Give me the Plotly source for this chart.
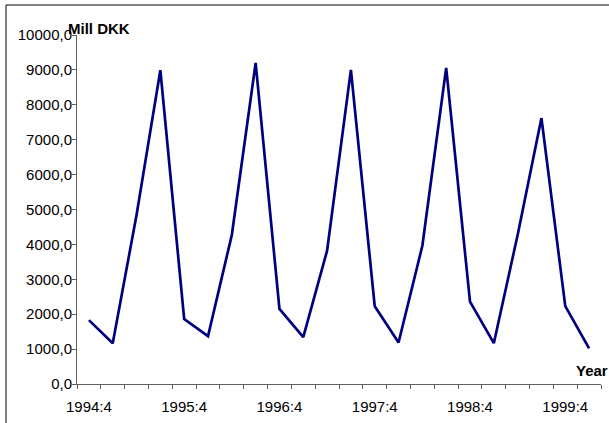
import plotly.graph_objects as go

categories = ["1994:4",
              "1995:1", "1995:2", "1995:3", "1995:4",
              "1996:1", "1996:2", "1996:3", "1996:4",
              "1997:1", "1997:2", "1997:3", "1997:4",
              "1998:1", "1998:2", "1998:3", "1998:4",
              "1999:1", "1999:2", "1999:3", "1999:4",
              "2000:1"]
values = [1830, 1170, 4840, 8990,
          1860, 1370, 4270, 9200,
          2150, 1340, 3820, 9000,
          2230, 1190, 3960, 9060,
          2360, 1170, 4270, 7620,
          2230, 1020]
y_ticks = [0, 1000, 2000, 3000, 4000, 5000, 6000, 7000, 8000, 9000, 10000]
y_ticktext = ["0,0", "1000,0", "2000,0", "3000,0", "4000,0", "5000,0",
              "6000,0", "7000,0", "8000,0", "9000,0", "10000,0"]
x_label_idx = [0, 4, 8, 12, 16, 20]

FONT = "Liberation Sans, Arial, sans-serif"
xs = list(range(len(categories)))

fig = go.Figure()
fig.add_trace(go.Scatter(x=xs, y=values, mode="lines",
                         line=dict(color="#000080", width=2.7),
                         hoverinfo="skip"))

fig.update_layout(
    width=609, height=423,
    margin=dict(l=77, r=8, t=35, b=39),
    paper_bgcolor="white", plot_bgcolor="white",
    showlegend=False,
    font=dict(family=FONT, size=15, color="black"),
    xaxis=dict(
        range=[-0.5, len(categories) - 0.5],
        tickmode="array",
        tickvals=[xs[i] for i in x_label_idx],
        ticktext=[categories[i] for i in x_label_idx],
        ticks="",
        showgrid=False, zeroline=False,
        showline=True, linecolor="#606060", linewidth=1,
        ticklabelstandoff=9,
        minor=dict(tickmode="array",
                   tickvals=[x - 0.5 for x in xs] + [len(categories) - 0.5],
                   ticks="outside", ticklen=4, tickcolor="#606060",
                   showgrid=False),
    ),
    yaxis=dict(
        range=[0, 10000],
        tickmode="array", tickvals=y_ticks, ticktext=y_ticktext,
        ticks="outside", ticklen=4, tickcolor="#606060",
        showgrid=False, zeroline=False,
        showline=True, linecolor="#606060", linewidth=1,
        ticklabelstandoff=-3,
    ),
    annotations=[
        dict(text="<b>Mill DKK</b>", xref="paper", yref="paper",
             x=-0.021, y=0.988, xanchor="left", yanchor="bottom",
             showarrow=False, font=dict(size=15, family=FONT)),
        dict(text="<b>Year</b>", xref="paper", yref="paper",
             x=1.017, y=0.01, xanchor="right", yanchor="bottom",
             showarrow=False, font=dict(size=15, family=FONT)),
    ],
    shapes=[
        dict(type="rect", xref="paper", yref="paper",
             x0=(6 - 77) / 524, x1=(612 - 77) / 524,
             y0=(384 - 430) / 349, y1=(384 - 5) / 349,
             line=dict(color="black", width=1)),
    ],
)

fig.write_html("out.html")
